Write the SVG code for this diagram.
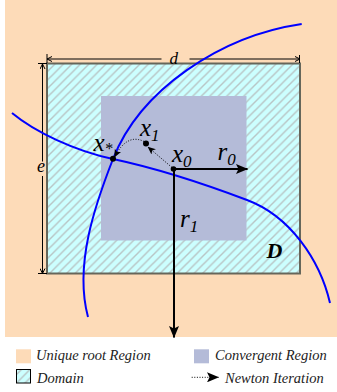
<svg xmlns="http://www.w3.org/2000/svg" width="337" height="392" viewBox="0 0 337 392">
<style>
.lbl{font-family:"Liberation Serif","Times New Roman",serif;font-style:italic;fill:#000}
.big{font-size:25px}
.sub{font-size:17px}
.leg{font-size:14.5px;fill:#222}
.curve{fill:none;stroke:#0000ff;stroke-width:2}
.vec{stroke:#000;stroke-width:2;fill:none}
.dim{stroke:#000;stroke-width:1;fill:none}
.dot{stroke:#000;stroke-width:1;stroke-dasharray:1 1.6;fill:none}
</style>
<defs>
<pattern id="hatch" width="8.5" height="8.5" patternUnits="userSpaceOnUse">
<rect width="8.5" height="8.5" fill="#ccffff"/>
<path d="M-2,2 L2,-2 M0,8.5 L8.5,0 M6.5,10.5 L10.5,6.5" stroke="#b8c4c4" stroke-width="1.4"/>
</pattern>
<marker id="ah" viewBox="0 0 12 10" refX="11.5" refY="5" markerWidth="12" markerHeight="10" markerUnits="userSpaceOnUse" orient="auto">
<path d="M0,0 L12,5 L0,10 L2.5,5 z" fill="#000"/>
</marker>
<marker id="sh" viewBox="0 0 8 7" refX="7.5" refY="3.5" markerWidth="8" markerHeight="7" markerUnits="userSpaceOnUse" orient="auto">
<path d="M0,0 L8,3.5 L0,7 L2,3.5 z" fill="#000"/>
</marker>
<marker id="dh" viewBox="0 0 6 6" refX="5.5" refY="3" markerWidth="6" markerHeight="6" markerUnits="userSpaceOnUse" orient="auto-start-reverse">
<path d="M0.5,0.5 L5.5,3 L0.5,5.5" stroke="#000" stroke-width="1" fill="none"/>
</marker>
</defs>

<g id="unique-root-region">
<rect x="5" y="0" width="332" height="337" fill="#fddbb8"/>
</g>
<g id="domain">
<rect x="47" y="63.5" width="253" height="210" fill="url(#hatch)" stroke="#66665a" stroke-width="2"/>
</g>
<g id="convergent-region">
<rect x="101" y="96" width="145.5" height="144.5" fill="#b4bbd8"/>
</g>

<g id="dimensions">
<path class="dim" d="M47,59 H161.5" marker-start="url(#dh)"/>
<path class="dim" d="M189.5,59 H300" marker-end="url(#dh)"/>
<path class="dim" d="M47,54 V63 M299.5,55 V63"/>
<path class="dim" d="M42.5,64 V161.5" marker-start="url(#dh)"/>
<path class="dim" d="M42.5,176 V273.5" marker-end="url(#dh)"/>
<path class="dim" d="M38,63.5 H47 M38,273.5 H47"/>
<text class="lbl" x="169.5" y="63.5" font-size="17">d</text>
<text class="lbl" x="37" y="172" font-size="18">e</text>
</g>

<g id="curves">
<path class="curve" d="M301.7,24 C220,36 140,90 113,159 C95,205 74,265 88,317"/>
<path class="curve" d="M12,113 C35,132 75,151 113,159 C160,169 210,186 247,200 C290,216 320,260 330,303"/>
</g>

<g id="connectors">
<path class="vec" d="M173.5,169 H247.5" marker-end="url(#ah)"/>
<path class="vec" d="M174,169 V337.5" marker-end="url(#ah)"/>
<path class="dot" d="M172,167.5 L148,147" marker-end="url(#sh)"/>
<path class="dot" d="M144,141.5 Q127,133 114.5,157" marker-end="url(#sh)"/>
</g>

<g id="x0">
<circle cx="173.5" cy="169" r="2.8" fill="#000"/>
<text class="lbl big" x="172" y="162">x<tspan class="sub" dy="4.5">0</tspan></text>
</g>
<g id="x1">
<circle cx="146" cy="143.5" r="3" fill="#000"/>
<text class="lbl big" x="140" y="135.5">x<tspan class="sub" dy="5">1</tspan></text>
</g>
<g id="xstar">
<circle cx="113" cy="158.8" r="3" fill="#000"/>
<text class="lbl big" x="93.5" y="150.5">x<tspan font-size="16" dy="3">*</tspan></text>
</g>
<g id="r0">
<text class="lbl big" x="217.5" y="160">r<tspan class="sub" dy="5">0</tspan></text>
</g>
<g id="r1">
<text class="lbl big" x="180" y="227">r<tspan class="sub" dy="5">1</tspan></text>
</g>
<g id="D">
<text class="lbl" x="266.5" y="258" font-size="22" font-weight="bold">D</text>
</g>

<g id="legend">
<rect x="16" y="349.3" width="15" height="14" fill="#fddbb8"/>
<text class="lbl leg" x="36" y="360">Unique root Region</text>
<rect x="194" y="349.3" width="15" height="14" fill="#b4bbd8"/>
<text class="lbl leg" x="215" y="360">Convergent Region</text>
<rect x="16.5" y="369.5" width="14" height="13.5" fill="url(#hatch)" stroke="#000" stroke-width="1"/>
<text class="lbl leg" x="37" y="382.7">Domain</text>
<path class="dot" d="M191.7,377.3 H218.5" marker-end="url(#ah)"/>
<text class="lbl leg" x="225" y="382.7">Newton Iteration</text>
</g>
</svg>
